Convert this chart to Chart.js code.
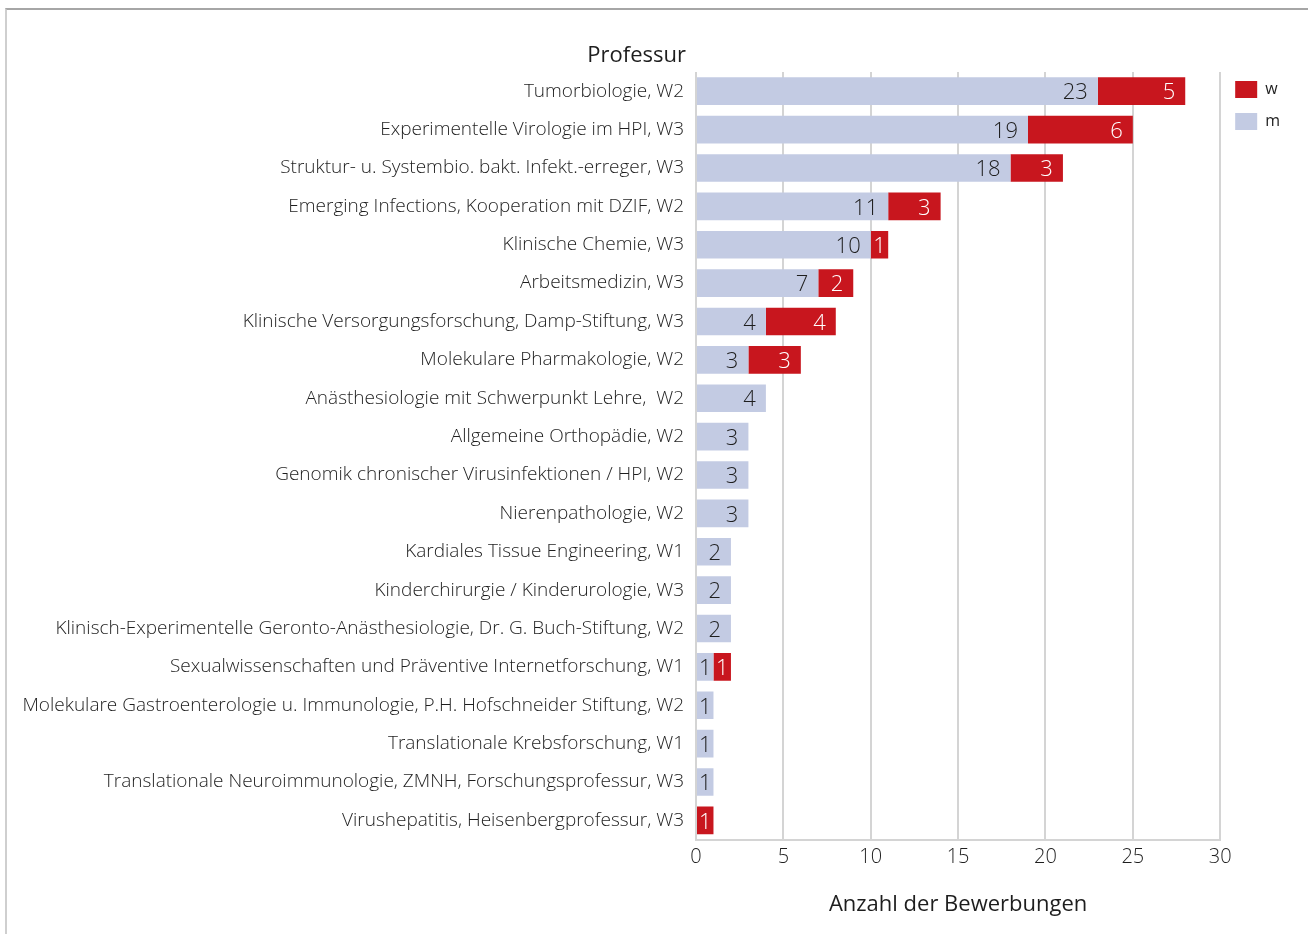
<!DOCTYPE html>
<html lang="de">
<head>
    <meta charset="utf-8">
    <title>Bewerbungen je Professur</title>
    <script src="https://cdn.jsdelivr.net/npm/chart.js"></script>
    <style>
        html, body {
            margin: 0;
            padding: 0;
            background: white;
        }

        #frame {
            position: absolute;
            left: 5px;
            top: 8px;
            width: 1303px;
            height: 926px;
            border-top: 2px solid #a6a6a6;
            border-left: 2px solid #cfcfcf;
            box-sizing: border-box;
        }

        #chartBox {
            position: absolute;
            left: 0;
            top: 0;
            width: 1301px;
            height: 924px;
        }
    </style>
</head>
<body>

    <div id="frame">
        <div id="chartBox">
            <canvas id="bewerbungenChart"></canvas>
        </div>
    </div>

    <script>
        const professuren = [
            "Tumorbiologie, W2",
            "Experimentelle Virologie im HPI, W3",
            "Struktur- u. Systembio. bakt. Infekt.-erreger, W3",
            "Emerging Infections, Kooperation mit DZIF, W2",
            "Klinische Chemie, W3",
            "Arbeitsmedizin, W3",
            "Klinische Versorgungsforschung, Damp-Stiftung, W3",
            "Molekulare Pharmakologie, W2",
            "Anästhesiologie mit Schwerpunkt Lehre,  W2",
            "Allgemeine Orthopädie, W2",
            "Genomik chronischer Virusinfektionen / HPI, W2",
            "Nierenpathologie, W2",
            "Kardiales Tissue Engineering, W1",
            "Kinderchirurgie / Kinderurologie, W3",
            "Klinisch-Experimentelle Geronto-Anästhesiologie, Dr. G. Buch-Stiftung, W2",
            "Sexualwissenschaften und Präventive Internetforschung, W1",
            "Molekulare Gastroenterologie u. Immunologie, P.H. Hofschneider Stiftung, W2",
            "Translationale Krebsforschung, W1",
            "Translationale Neuroimmunologie, ZMNH, Forschungsprofessur, W3",
            "Virushepatitis, Heisenbergprofessur, W3"
        ];

        // Bewerbungen: männlich / weiblich
        const maennlich = [23, 19, 18, 11, 10, 7, 4, 3, 4, 3, 3, 3, 2, 2, 2, 1, 1, 1, 1, 0];
        const weiblich = [5, 6, 3, 3, 1, 2, 4, 3, 0, 0, 0, 0, 0, 0, 0, 1, 0, 0, 0, 1];

        const xTicks = [0, 5, 10, 15, 20, 25, 30];

        const FONT = "'Open Sans', sans-serif";
        const TEXT = '#1e1e1e';

        // Zahlen in die Balken schreiben (rechtsbündig, schmale Balken zentriert)
        const barValues = {
            id: 'barValues',
            afterDatasetsDraw(chart) {
                const ctx = chart.ctx;
                ctx.save();
                ctx.font = "300 22px " + FONT;
                ctx.textBaseline = 'middle';
                chart.data.datasets.forEach((ds, i) => {
                    const meta = chart.getDatasetMeta(i);
                    meta.data.forEach((bar, j) => {
                        const v = ds.data[j];
                        if (!v) return;
                        const w = Math.abs(bar.x - bar.base);
                        ctx.fillStyle = ds.labelColor;
                        if (w < 30) {
                            ctx.textAlign = 'center';
                            ctx.fillText(String(v), (bar.x + bar.base) / 2, bar.y + 2);
                        } else {
                            ctx.textAlign = 'right';
                            ctx.fillText(String(v), bar.x - 10, bar.y + 2);
                        }
                    });
                });
                ctx.restore();
            }
        };

        // Achsentitel "Professur" über den Kategorien
        const yTitle = {
            id: 'yTitle',
            afterDraw(chart) {
                const ctx = chart.ctx;
                const y = chart.scales.y;
                ctx.save();
                ctx.font = "500 22px " + FONT;
                ctx.fillStyle = TEXT;
                ctx.textAlign = 'right';
                ctx.textBaseline = 'middle';
                ctx.fillText('Professur', y.right - 10, 46);
                ctx.restore();
            }
        };

        // Legende etwas höher setzen, auf Höhe des ersten Balkens
        const legendShift = {
            id: 'legendShift',
            afterLayout(chart) {
                chart.legend.top -= 6;
                chart.legend.bottom -= 6;
            }
        };

        new Chart(document.getElementById('bewerbungenChart').getContext('2d'), {
            type: 'bar',
            data: {
                labels: professuren,
                datasets: [
                    {
                        label: 'm',
                        data: maennlich,
                        backgroundColor: '#c3cbe3',
                        labelColor: TEXT,
                        barPercentage: 0.72,
                        categoryPercentage: 1
                    },
                    {
                        label: 'w',
                        data: weiblich,
                        backgroundColor: '#c8161e',
                        labelColor: 'white',
                        barPercentage: 0.72,
                        categoryPercentage: 1
                    }
                ]
            },
            options: {
                indexAxis: 'y',
                responsive: true,
                maintainAspectRatio: false,
                animation: false,
                layout: {
                    padding: { top: 62, left: 0, right: 18, bottom: 16 }
                },
                scales: {
                    x: {
                        stacked: true,
                        min: 0,
                        max: 30,
                        afterBuildTicks: (scale) => {
                            scale.ticks = xTicks.map(v => ({ value: v }));
                        },
                        grid: {
                            color: '#d4d4d4',
                            lineWidth: 2,
                            drawTicks: false
                        },
                        border: { display: true, color: '#d4d4d4', width: 2 },
                        ticks: {
                            color: TEXT,
                            padding: 6,
                            font: { family: FONT, size: 20, weight: 300 }
                        },
                        title: {
                            display: true,
                            text: 'Anzahl der Bewerbungen',
                            color: TEXT,
                            padding: { top: 16, bottom: 0 },
                            font: { family: FONT, size: 22, weight: 500 }
                        }
                    },
                    y: {
                        stacked: true,
                        afterFit: (scale) => { scale.width = 689; },
                        grid: { display: false, drawTicks: false },
                        border: { display: false },
                        ticks: {
                            color: TEXT,
                            padding: 12,
                            autoSkip: false,
                            font: { family: FONT, size: 19, weight: 300 }
                        }
                    }
                },
                plugins: {
                    legend: {
                        position: 'right',
                        align: 'start',
                        reverse: true,
                        labels: {
                            boxWidth: 22,
                            boxHeight: 17,
                            padding: 15,
                            color: TEXT,
                            font: { family: FONT, size: 16, weight: 400 }
                        }
                    },
                    tooltip: { enabled: false }
                }
            },
            plugins: [barValues, yTitle, legendShift]
        });
    </script>

</body>
</html>
